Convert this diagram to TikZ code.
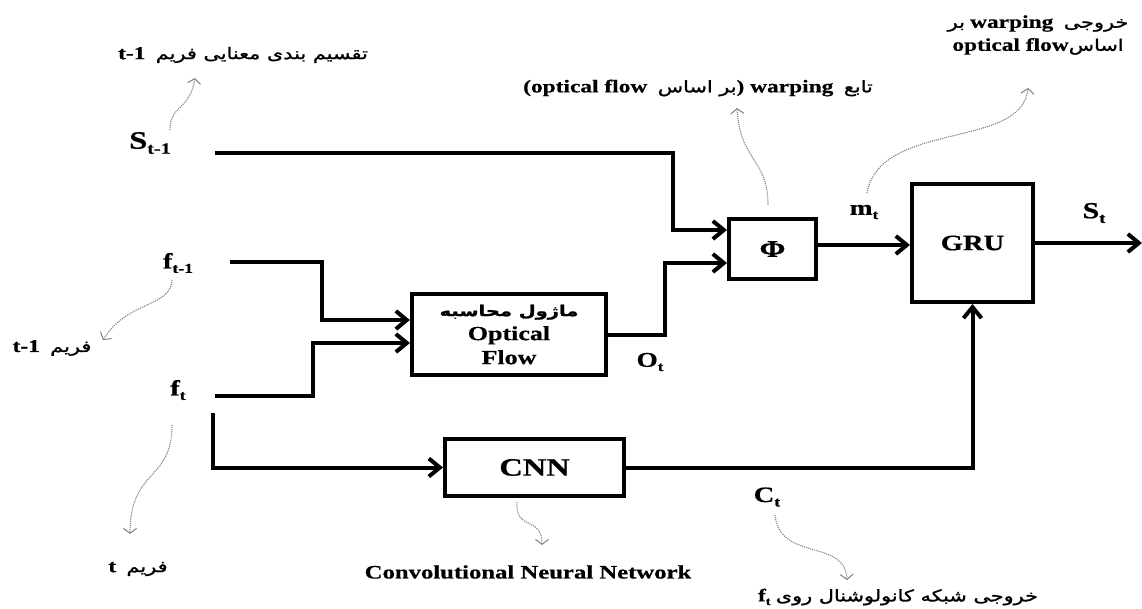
\documentclass[tikz,border=0pt]{standalone}
\usepackage{fontspec}
\usepackage{graphicx}
\usetikzlibrary{arrows.meta,calc}
\setmainfont{Liberation Serif}[FakeStretch=1.3,FakeBold=0.6]
\newfontfamily\fa[Script=Arabic,FakeBold=1.4,FakeStretch=1.3]{DejaVu Sans}
\TeXXeTstate=1
\newcommand\fatx[1]{{\fa\beginR #1\endR}}
\newcommand\subs[1]{\raisebox{-0.2em}{\scalebox{0.62}{#1}}}
\begin{document}
\begin{tikzpicture}[x=1pt,y=-1pt,
  arr/.style={line width=4pt,-{Straight Barb[length=11pt,width=18pt]}},
  blk/.style={draw,line width=4pt,inner sep=0pt,align=center},
  lab/.style={inner sep=0pt,font=\bfseries\fontsize{21}{22}\selectfont},
  note/.style={draw=black!50,densely dotted,line width=1.1pt,-{Straight Barb[length=5pt,width=13pt,line width=1pt]}},
  ann/.style={inner sep=0pt,font=\fontsize{16}{18}\selectfont},
  lt/.style={font=\bfseries\fontsize{18}{18}\selectfont}]
\path[use as bounding box] (0,0) rectangle (1142,608);

% blocks
\node[blk,minimum width=87pt,minimum height=60pt,font=\bfseries\fontsize{24}{24}\selectfont] (phi) at (772.5,249) {Φ};
\node[blk,minimum width=121pt,minimum height=118pt,font=\bfseries\fontsize{22}{22}\selectfont] (gru) at (972.5,243) {GRU};
\node[blk,minimum width=194pt,minimum height=81pt,font=\bfseries\fontsize{20}{24}\selectfont] (of) at (509,334.5)
  {{\fontsize{15}{17}\selectfont\fatx{ماژول محاسبه}}\\Optical\\Flow};
\node[blk,minimum width=179pt,minimum height=57pt,font=\bfseries\fontsize{25}{25}\selectfont] (cnn) at (534.5,467.5) {CNN};

% signal labels
\node[lab,font=\bfseries\fontsize{25}{25}\selectfont] (st1) at (150,143) {S\subs{t-1}};
\node[lab,font=\bfseries\fontsize{22}{22}\selectfont] (ft1) at (178,263) {f\subs{t-1}};
\node[lab,font=\bfseries\fontsize{22}{22}\selectfont] (ft) at (178,390) {f\subs{t}};
\node[lab] (mt) at (864,212) {m\subs{t}};
\node[lab,font=\bfseries\fontsize{23}{23}\selectfont] (st) at (1094,213) {S\subs{t}};
\node[lab] (ot) at (650,362) {O\subs{t}};
\node[lab,font=\bfseries\fontsize{22}{22}\selectfont] (ct) at (767,497) {C\subs{t}};

% connector ends
\coordinate (s0) at (215,153);
\coordinate (s1) at (673,230);
\coordinate (a0) at (230,262);
\coordinate (a1) at (322,320);
\coordinate (b0) at (215,396);
\coordinate (b1) at (313,343);
\coordinate (o1) at (665,263);
\coordinate (c0) at (213,413);
\coordinate (pe) at ($(phi.east)+(0,-4)$);
\coordinate (out) at (1142,243);

% connectors
\draw[arr] (s0) -| (s1) -- (s1 -| phi.west);
\draw[arr] (a0) -| (a1) -- (a1 -| of.west);
\draw[arr] (b0) -| (b1) -- (b1 -| of.west);
\draw[arr] (of.east) -| (o1) -- (o1 -| phi.west);
\draw[arr] (pe) -- (pe -| gru.west);
\draw[arr] (gru.east) -- (out);
\draw[arr] (c0) |- (cnn.west);
\draw[arr] (cnn.east) -| (gru.south);

% annotations
\node[ann] (n1) at (243,55) {\textbf{\fontsize{18}{18}\selectfont t-1}\ \ \fatx{تقسیم بندی معنایی فریم}};
\node[ann] (n2) at (52,348) {\textbf{\fontsize{18}{18}\selectfont t-1}\ \ \fatx{فریم}};
\node[ann] (n3) at (138,569) {\textbf{\fontsize{18}{18}\selectfont t}\ \ \fatx{فریم}};
\node[ann,font=\bfseries\fontsize{19}{19}\selectfont] (n4) at (528,572) {Convolutional Neural Network};
\node[ann] (n5) at (898,597) {\textbf{\fontsize{18}{18}\selectfont f\subs{t}} \fatx{خروجی شبکه کانولوشنال روی}};
\node[ann] (n6) at (698,88) {\textbf{\fontsize{18}{18}\selectfont (optical flow}\ \ \fatx{بر اساس}\textbf{\fontsize{18}{18}\selectfont) warping}\ \ \fatx{تابع}};
\node[ann,align=center] (n7) at (1038,35) {\fatx{بر}\ \textbf{\fontsize{18}{18}\selectfont warping}\ \ \fatx{خروجی}\\[5pt]\textbf{\fontsize{18}{18}\selectfont optical flow}\fatx{اساس}};

% dotted notes
\coordinate (p1) at (170,130); \coordinate (q1) at (195,78);
\draw[note] (p1) .. controls (170,105) and (190,110) .. (q1);
\coordinate (p2) at (172,280); \coordinate (q2) at (103,340);
\draw[note] (p2) .. controls (170,308) and (128,300) .. (q2);
\coordinate (p3) at (172,425); \coordinate (q3) at (130,534);
\draw[note] (p3) .. controls (172,482) and (130,468) .. (q3);
\coordinate (p4) at (517,502); \coordinate (q4) at (542,545);
\draw[note] (p4) .. controls (515,532) and (542,515) .. (q4);
\coordinate (p5) at (775,515); \coordinate (q5) at (847,580);
\draw[note] (p5) .. controls (780,562) and (845,538) .. (q5);
\coordinate (p6) at (768,205); \coordinate (q6) at (737,108);
\draw[note] (p6) .. controls (768,158) and (740,162) .. (q6);
\coordinate (p7) at (867,193); \coordinate (q7) at (1028,88);
\draw[note] (p7) .. controls (880,120) and (1022,150) .. (q7);
\end{tikzpicture}
\end{document}
